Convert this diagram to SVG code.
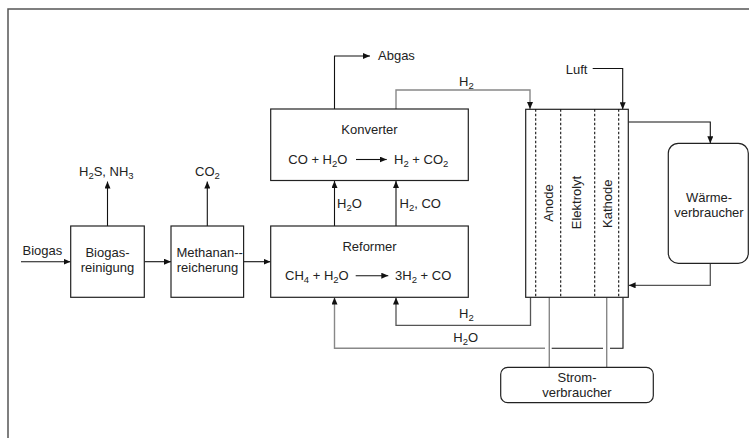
<svg xmlns="http://www.w3.org/2000/svg" width="749" height="438" viewBox="0 0 749 438">
<style>
text{font-family:"Liberation Sans",Arial,sans-serif;font-size:13px;fill:#222}
.sub{font-size:9.5px}
.box{fill:#fff;stroke:#222;stroke-width:1.2}
.c{fill:none;stroke:#111;stroke-width:1.1}
.g{fill:none;stroke:#888;stroke-width:1.4}
.dg{fill:none;stroke:#555;stroke-width:1.3}
.dash{stroke:#111;stroke-width:1.1;stroke-dasharray:2.5 2}
</style>
<defs>
<marker id="ah" markerUnits="userSpaceOnUse" markerWidth="7" markerHeight="6" refX="7" refY="3" orient="auto">
<path d="M0,0 L7,3 L0,6 z" fill="#111"/>
</marker>
</defs>
<rect width="749" height="438" fill="#fff"/>
<path d="M8,440 V9 H760" fill="none" stroke="#555" stroke-width="1.5"/>

<g id="connectors">
<path class="c" d="M21,261.7 H70.5" marker-end="url(#ah)"/>
<path class="c" d="M144.3,261.7 H171" marker-end="url(#ah)"/>
<path class="c" d="M243.6,261.7 H270.5" marker-end="url(#ah)"/>
<path class="c" d="M107.5,226 V181.5" marker-end="url(#ah)"/>
<path class="c" d="M207.3,226 V181.5" marker-end="url(#ah)"/>
<path class="c" d="M334.5,226 V181" marker-end="url(#ah)"/>
<path class="c" d="M396,226 V181" marker-end="url(#ah)"/>
<path class="c" d="M334.5,109 V56 H370" marker-end="url(#ah)"/>
<path class="g" d="M396,109 V90 H530 V109" marker-end="url(#ah)"/>
<path class="c" d="M592.7,68.5 H622.7 V109.3" marker-end="url(#ah)"/>
<path class="c" d="M628.3,122 H710.3 V143.3" marker-end="url(#ah)"/>
<path class="dg" d="M710.3,263.3 V285.3 H628.6" marker-end="url(#ah)"/>
<path class="dg" d="M530.5,297.3 V325.3 H396 V297.5" marker-end="url(#ah)"/>
<path class="c" d="M623,297.3 V348.3 H610"/>
<path class="c" d="M603,348.3 H551.7"/>
<path class="g" d="M545,348.3 H334.5 V297.5" marker-end="url(#ah)"/>
<path class="g" d="M549.3,297.3 V367.3"/>
<path class="g" d="M606.7,297.3 V367.3"/>
<text x="22.5" y="254.5">Biogas</text>
<text x="79" y="176">H<tspan class="sub" dy="3">2</tspan><tspan dy="-3">S, NH</tspan><tspan class="sub" dy="3">3</tspan></text>
<text x="195" y="176">CO<tspan class="sub" dy="3">2</tspan></text>
<text x="337" y="208.3">H<tspan class="sub" dy="3">2</tspan><tspan dy="-3">O</tspan></text>
<text x="399.5" y="208.3">H<tspan class="sub" dy="3">2</tspan><tspan dy="-3">, CO</tspan></text>
<text x="378" y="59.5">Abgas</text>
<text x="459" y="86">H<tspan class="sub" dy="3">2</tspan></text>
<text x="565.7" y="74">Luft</text>
<text x="459" y="318.3">H<tspan class="sub" dy="3">2</tspan></text>
<text x="453.3" y="342.3">H<tspan class="sub" dy="3">2</tspan><tspan dy="-3">O</tspan></text>
</g>

<g id="biogasreinigung">
<rect class="box" x="70.7" y="226" width="73.6" height="71.3"/>
<text x="107.5" y="257.3" text-anchor="middle">Biogas-</text>
<text x="107.5" y="271.7" text-anchor="middle">reinigung</text>
</g>

<g id="methananreicherung">
<rect class="box" x="171" y="226" width="72.6" height="71.3"/>
<text x="209.7" y="257.3" text-anchor="middle">Methanan--</text>
<text x="207.5" y="271.7" text-anchor="middle">reicherung</text>
</g>

<g id="reformer">
<rect class="box" x="270.7" y="226" width="197.6" height="71.3"/>
<text x="369.5" y="251" text-anchor="middle">Reformer</text>
<text x="285" y="280">CH<tspan class="sub" dy="3">4</tspan><tspan dy="-3"> + H</tspan><tspan class="sub" dy="3">2</tspan><tspan dy="-3">O</tspan></text>
<path class="c" d="M355.7,275.7 H388.3" marker-end="url(#ah)"/>
<text x="395" y="280">3H<tspan class="sub" dy="3">2</tspan><tspan dy="-3"> + CO</tspan></text>
</g>

<g id="konverter">
<rect class="box" x="270.7" y="109" width="197.6" height="71.5"/>
<text x="369.5" y="134.3" text-anchor="middle">Konverter</text>
<text x="288.3" y="164">CO + H<tspan class="sub" dy="3">2</tspan><tspan dy="-3">O</tspan></text>
<path class="c" d="M356,159.5 H386.7" marker-end="url(#ah)"/>
<text x="394" y="164">H<tspan class="sub" dy="3">2</tspan><tspan dy="-3"> + CO</tspan><tspan class="sub" dy="3">2</tspan></text>
</g>

<g id="brennstoffzelle">
<rect class="box" x="525.7" y="109.3" width="102.6" height="188"/>
<line class="dash" x1="535.7" y1="109.3" x2="535.7" y2="297.3"/>
<line class="dash" x1="560.7" y1="109.3" x2="560.7" y2="297.3"/>
<line class="dash" x1="594.7" y1="109.3" x2="594.7" y2="297.3"/>
<line class="dash" x1="618.7" y1="109.3" x2="618.7" y2="297.3"/>
<text transform="translate(552.5,203) rotate(-90)" text-anchor="middle">Anode</text>
<text transform="translate(581,202.5) rotate(-90)" text-anchor="middle">Elektrolyt</text>
<text transform="translate(611.5,203.8) rotate(-90)" text-anchor="middle">Kathode</text>
</g>

<g id="waermeverbraucher">
<rect class="box" x="668.3" y="143.3" width="80" height="120" rx="10" ry="10"/>
<text x="709" y="201.7" text-anchor="middle">Wärme-</text>
<text x="709" y="216.7" text-anchor="middle">verbraucher</text>
</g>

<g id="stromverbraucher">
<rect class="box" x="500.7" y="367.3" width="152.6" height="35.4" rx="7" ry="7"/>
<text x="577" y="381.7" text-anchor="middle">Strom-</text>
<text x="577" y="396.7" text-anchor="middle">verbraucher</text>
</g>
</svg>
